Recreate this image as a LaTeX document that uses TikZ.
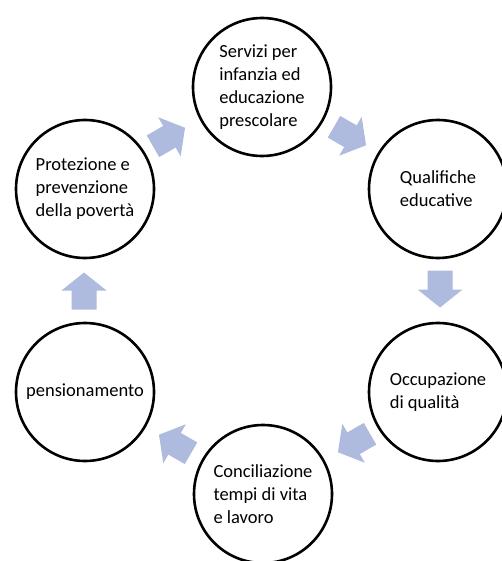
\documentclass[tikz,border=0pt]{standalone}
\usepackage{fontspec}
\setmainfont{Carlito}
\definecolor{arrowfill}{RGB}{174,186,222}
\tikzset{
  bubble/.style={circle, draw=black, line width=2.6pt, minimum size=138pt,
    inner sep=0pt, align=left, font=\fontsize{18.5}{23}\selectfont},
  flowarrow/.pic={
    \fill[arrowfill] (18.5,0) -- (0.5,22.5) -- (0.5,12.5) -- (-18.5,12.5)
      -- (-18.5,-12.5) -- (0.5,-12.5) -- (0.5,-22.5) -- cycle;
  }
}
\begin{document}
\begin{tikzpicture}[x=1pt, y=-1pt]
  \useasboundingbox (0,0) rectangle (501,561);

  % the six stages of the cycle
  \node[bubble] (s1) at (262,87)  {Servizi per\\infanzia ed\\educazione\\prescolare};
  \node[bubble] (s2) at (438,189) {Qualifiche\\educative};
  \node[bubble] (s3) at (438,392) {Occupazione\\di qualità};
  \node[bubble] (s4) at (263,494) {Conciliazione\\tempi di vita\\e lavoro};
  \node[bubble] (s5) at (85,392)  {pensionamento};
  \node[bubble] (s6) at (85,189)  {Protezione e\\prevenzione\\della povertà};

  % block arrows running clockwise between the stages
  \pic[rotate=-30]  (a1) at (350,136) {flowarrow};
  \pic[rotate=-90]  (a2) at (440,289) {flowarrow};
  \pic[rotate=-150] (a3) at (354,443) {flowarrow};
  \pic[rotate=150]  (a4) at (175,444) {flowarrow};
  \pic[rotate=90]   (a5) at (84,291)  {flowarrow};
  \pic[rotate=30]   (a6) at (169,137) {flowarrow};
\end{tikzpicture}
\end{document}
